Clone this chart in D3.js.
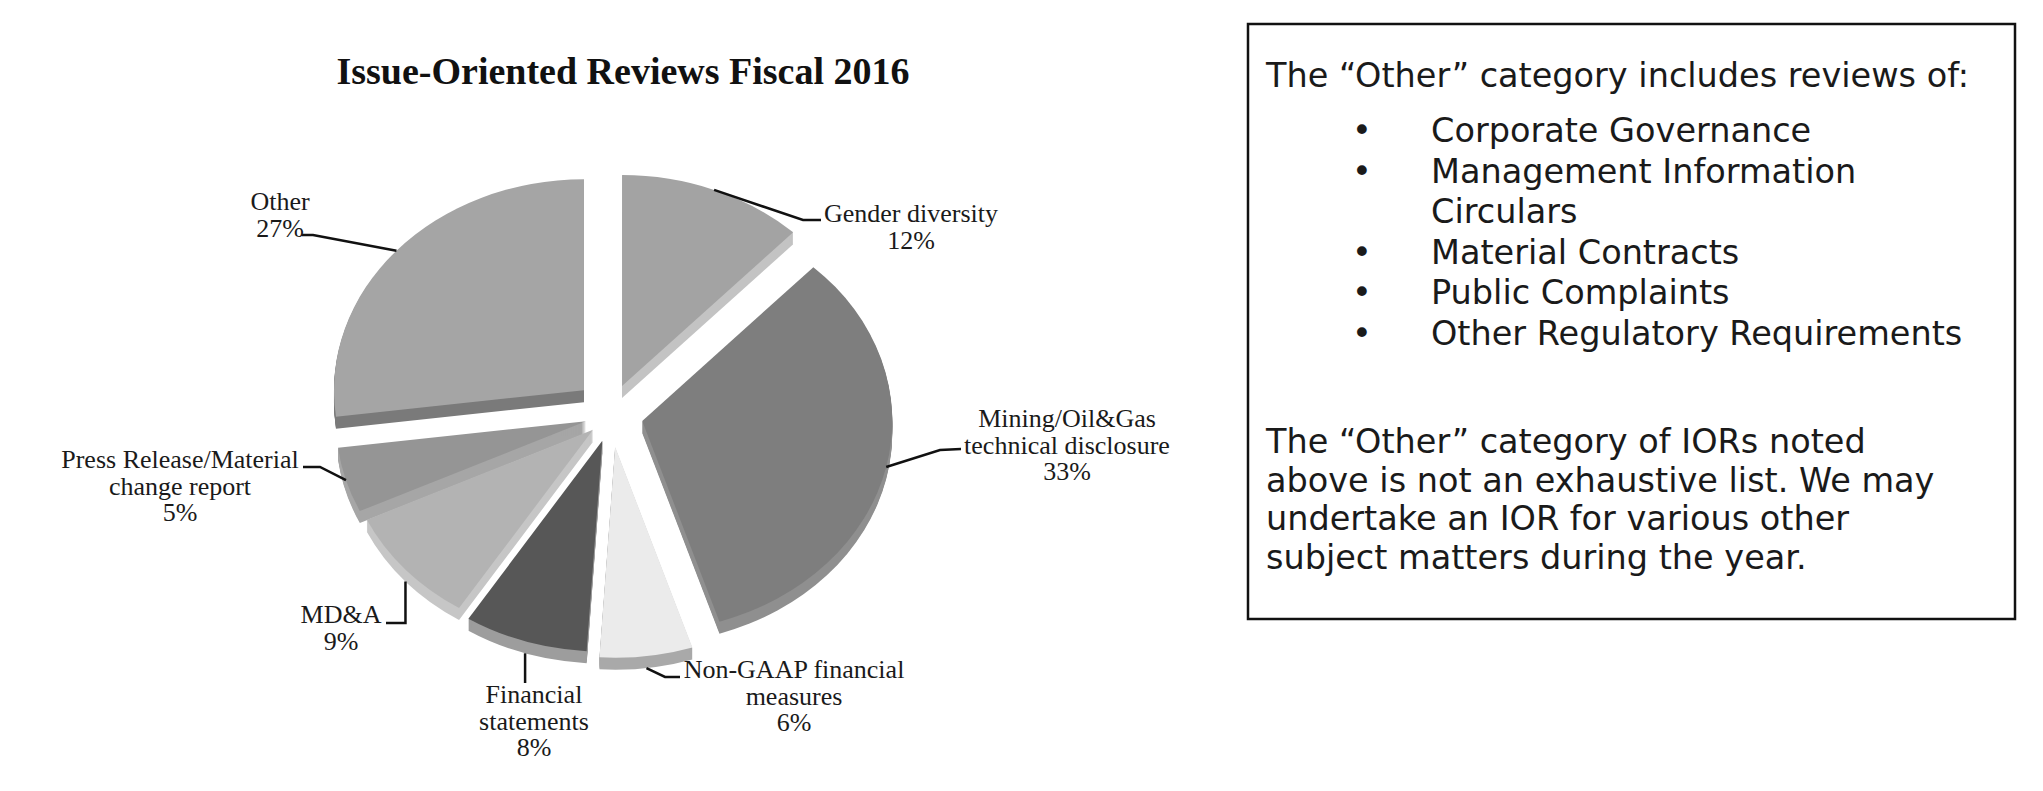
<!DOCTYPE html>
<html><head><meta charset="utf-8">
<script src="https://cdn.jsdelivr.net/npm/d3@7"></script>
<style>html,body{margin:0;padding:0;background:#fff;} svg{display:block}</style>
</head><body>
<svg id="chart" width="2043" height="791"></svg>
<script>
// ---------- DATA ----------
const chartTitle = "Issue-Oriented Reviews Fiscal 2016";
const categories = ["Gender diversity", "Mining/Oil&Gas technical disclosure", "Non-GAAP financial measures",
  "Financial statements", "MD&A", "Press Release/Material change report", "Other"];
const values = [12, 33, 6, 8, 9, 5, 27];
const labelLines = [["Gender diversity"], ["Mining/Oil&Gas", "technical disclosure"], ["Non-GAAP financial", "measures"],
  ["Financial", "statements"], ["MD&A"], ["Press Release/Material", "change report"], ["Other"]];
const noteTitle = "The \u201COther\u201D category includes reviews of:";
const noteBullets = [["Corporate Governance"], ["Management Information", "Circulars"], ["Material Contracts"],
  ["Public Complaints"], ["Other Regulatory Requirements"]];
const noteParagraph = ["The \u201COther\u201D category of IORs noted", "above is not an exhaustive list. We may",
  "undertake an IOR for various other", "subject matters during the year."];

// ---------- STYLE / LAYOUT ----------
const faceColors = ["#a3a3a3", "#7e7e7e", "#ebebeb", "#575757", "#b3b3b3", "#959595", "#a5a5a5"];
const sideColors = ["#c3c3c3", "#8f8f8f", "#a9a9a9", "#9d9d9d", "#c6c6c6", "#a6a6a6", "#7a7a7a"];
const explode = [30, 32, 33, 28, 24, 26, 36];
const pieCenter = [611, 414], rx = 250, ry = 211, depth = 12;
const labelLayout = [
  {x: 911, y: 222, pts: [[803, 220], [821, 220]]},
  {x: 1067, y: 427, pts: [[940, 450], [961, 449]]},
  {x: 794, y: 678, pts: [[665, 677], [680, 677]]},
  {x: 534, y: 703, pts: [[null, 683]]},
  {x: 341, y: 623, pts: [[null, 623], [386, 623]]},
  {x: 180, y: 468, pts: [[320, 467], [303, 467]]},
  {x: 280, y: 210, pts: [[313, 235], [302, 235]]}
];
const labelLineH = 26.5;
const serif = "'Liberation Serif','Times New Roman',serif";
const sans = "'DejaVu Sans',Verdana,sans-serif";

// ---------- DRAW ----------
const svg = d3.select("#chart");

svg.append("text").attr("x", 623).attr("y", 84).attr("text-anchor", "middle")
  .style("font-family", serif).style("font-weight", "bold").style("font-size", "38px").attr("fill", "#111")
  .text(chartTitle);

const pie = d3.pie().sort(null).value(d => d).startAngle(0).endAngle(2 * Math.PI);
const arcs = pie(values);
const arc = d3.arc().innerRadius(0).outerRadius(ry);

const slices = arcs.map((a, i) => {
  const m = (a.startAngle + a.endAngle) / 2;
  const apex = [pieCenter[0] + explode[i] * Math.sin(m), pieCenter[1] - explode[i] * Math.cos(m)];
  return {a, i, m, apex};
});

const g = svg.append("g");
// side (extrusion)
slices.forEach(s => {
  d3.range(1, depth + 1).forEach(k => {
    g.append("path").attr("d", arc(s.a))
      .attr("transform", `translate(${s.apex[0]},${s.apex[1] + k}) scale(${rx / ry},1)`)
      .attr("fill", sideColors[s.i]);
  });
});
// faces
slices.forEach(s => {
  g.append("path").attr("d", arc(s.a))
    .attr("transform", `translate(${s.apex[0]},${s.apex[1]}) scale(${rx / ry},1)`)
    .attr("fill", faceColors[s.i]);
});

// labels & leaders
slices.forEach(s => {
  const L = labelLayout[s.i];
  const start = [s.apex[0] + rx * Math.sin(s.m),
                 s.apex[1] - ry * Math.cos(s.m) + (-Math.cos(s.m) > 0.5 ? depth : 0)];
  const pts = [start].concat(L.pts.map(p => [p[0] === null ? start[0] : p[0], p[1]]));
  svg.append("path").attr("d", d3.line()(pts)).attr("fill", "none")
    .attr("stroke", "#111").attr("stroke-width", 2.5);
  const lines = labelLines[s.i].concat([values[s.i] + "%"]);
  const t = svg.append("text").attr("text-anchor", "middle")
    .style("font-family", serif).style("font-size", "26px").attr("fill", "#1a1a1a");
  lines.forEach((ln, j) => {
    t.append("tspan").attr("x", L.x).attr("y", L.y + j * labelLineH).text(ln);
  });
});

// note box
svg.append("rect").attr("x", 1248).attr("y", 24).attr("width", 767).attr("height", 595)
  .attr("fill", "none").attr("stroke", "#111").attr("stroke-width", 2.5);
const nt = svg.append("g").style("font-family", sans).style("font-size", "33.5px").attr("fill", "#1a1a1a");
nt.append("text").attr("x", 1266).attr("y", 87).text(noteTitle);
let by = 142;
noteBullets.forEach(b => {
  nt.append("text").attr("x", 1352).attr("y", by).text("\u2022");
  b.forEach((ln, j) => {
    nt.append("text").attr("x", 1431).attr("y", by + j * 40.5).text(ln);
  });
  by += b.length * 40.5;
});
noteParagraph.forEach((ln, j) => {
  nt.append("text").attr("x", 1266).attr("y", 453 + j * 38.5).text(ln);
});
</script>
</body></html>
